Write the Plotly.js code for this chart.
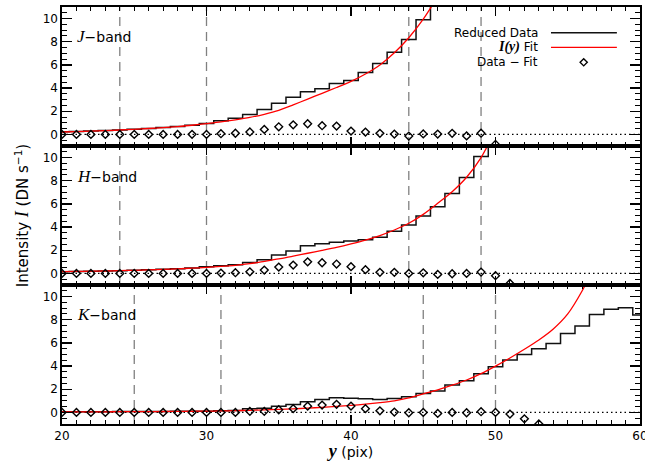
<!DOCTYPE html>
<html>
<head>
<meta charset="utf-8">
<script src="https://cdn.plot.ly/plotly-3.0.1.min.js"></script>
<style>
  html, body { margin: 0; padding: 0; background: #fff; }
  #chart { width: 645px; height: 461px; }
</style>
</head>
<body>
<div id="chart"></div>
<script>
// ---- J band ----
const jPix = [20,21,22,23,24,25,26,27,28,29,30,31,32,33,34,35,36,37,38,39,40,41,42,43,44,45,46];
const jData = [0.22,0.25,0.29,0.33,0.38,0.44,0.51,0.59,0.68,0.79,0.95,1.18,1.40,1.72,2.15,2.68,3.20,3.68,3.94,4.40,4.66,5.35,6.13,7.10,8.20,9.90,12.5];
const jFit = [0.21,0.24,0.28,0.33,0.38,0.44,0.51,0.59,0.68,0.79,0.93,1.08,1.26,1.47,1.74,2.08,2.55,3.05,3.55,4.05,4.58,5.22,6.00,7.05,8.35,9.95,11.9];
const jResPix = [20,21,22,23,24,25,26,27,28,29,30,31,32,33,34,35,36,37,38,39,40,41,42,43,44,45,46,47,48,49,50];
const jRes = [0,0,0,0,0,0,0,0,0,0.01,0,0.06,0.10,0.21,0.43,0.66,0.83,0.92,0.75,0.72,0.29,0.20,0.09,0.03,-0.14,0.04,0.03,0.09,-0.13,0.11,-0.86];
const jEdges = [24,30,44,49];

// ---- H band ----
const hPix = [20,21,22,23,24,25,26,27,28,29,30,31,32,33,34,35,36,37,38,39,40,41,42,43,44,45,46,47,48,49,50];
const hData = [0.15,0.17,0.19,0.21,0.24,0.27,0.31,0.35,0.40,0.46,0.57,0.66,0.74,0.95,1.18,1.58,1.93,2.39,2.56,2.70,2.79,2.90,3.13,3.65,4.17,4.96,5.75,6.90,8.29,10.1,12.5];
const hFit = [0.15,0.17,0.19,0.21,0.24,0.27,0.31,0.35,0.40,0.45,0.52,0.60,0.70,0.84,1.04,1.25,1.50,1.74,1.99,2.25,2.55,2.88,3.27,3.75,4.33,5.10,6.05,7.05,8.30,10.0,12.4];
const hResPix = [20,21,22,23,24,25,26,27,28,29,30,31,32,33,34,35,36,37,38,39,40,41,42,43,44,45,46,47,48,49,50,51];
const hRes = [0,0,0,0,0,0,0,0,0,0,0,0.03,0.06,0.14,0.29,0.55,0.72,1.00,0.92,0.81,0.58,0.32,0.09,0.09,0,0.05,-0.09,-0.03,0,0.12,-0.20,-0.87];
const hEdges = [24,30,44,49];

// ---- K band ----
const kPix = [20,21,22,23,24,25,26,27,28,29,30,31,32,33,34,35,36,37,38,39,40,41,42,43,44,45,46,47,48,49,50,51,52,53,54,55,56,57,58,59,60];
const kData = [0.05,0.05,0.06,0.06,0.07,0.07,0.08,0.08,0.09,0.10,0.11,0.14,0.17,0.31,0.37,0.54,0.69,0.92,1.12,1.26,1.23,1.17,1.12,1.20,1.35,1.64,1.84,2.36,2.73,3.34,3.94,4.52,5.00,5.50,5.96,6.82,7.45,8.46,8.90,9.03,8.40];
const kFitPix = [20,21,22,23,24,25,26,27,28,29,30,31,32,33,34,35,36,37,38,39,40,41,42,43,44,45,46,47,48,49,50,51,52,53,54,55,56,57];
const kFit = [0.04,0.045,0.05,0.055,0.06,0.065,0.07,0.08,0.09,0.10,0.11,0.13,0.15,0.18,0.22,0.26,0.31,0.37,0.44,0.52,0.61,0.71,0.84,1.00,1.25,1.60,1.95,2.35,2.80,3.35,4.00,4.70,5.45,6.25,7.20,8.50,10.5,13.0];
const kResPix = [20,21,22,23,24,25,26,27,28,29,30,31,32,33,34,35,36,37,38,39,40,41,42,43,44,45,46,47,48,49,50,51,52,53];
const kRes = [0,0,0,0,0,0,0,0,0,0,0,0,0,0.09,0.09,0.23,0.32,0.54,0.63,0.70,0.55,0.32,0.14,0.03,-0.03,0,-0.09,0,-0.03,0.06,0,-0.14,-0.55,-1.0];
const kEdges = [25,31,45,50];

const bandNames = ['J', 'H', 'K'];
const legendLabels = ['Reduced Data', '<span style="font-family:\'Liberation Serif\'; font-size:14px"><b><i>I(y)</i></b></span> Fit', 'Data \u2212 Fit'];

const SANS = 'DejaVu Sans, sans-serif';

// panels, top to bottom: J (y3), H (y2), K (y)
const panels = [
  {pix: jPix, data: jData, fitPix: jPix, fit: jFit, resPix: jResPix, res: jRes, edges: jEdges, xa: 'x3', ya: 'y3'},
  {pix: hPix, data: hData, fitPix: hPix, fit: hFit, resPix: hResPix, res: hRes, edges: hEdges, xa: 'x2', ya: 'y2'},
  {pix: kPix, data: kData, fitPix: kFitPix, fit: kFit, resPix: kResPix, res: kRes, edges: kEdges, xa: 'x', ya: 'y'}
];

const traces = [];
const shapes = [];
panels.forEach(p => {
  traces.push({x: p.pix, y: p.data, xaxis: p.xa, yaxis: p.ya, type: 'scatter', mode: 'lines',
    line: {shape: 'hvh', color: '#111', width: 1.5}, showlegend: false, hoverinfo: 'skip'});
  traces.push({x: p.fitPix, y: p.fit, xaxis: p.xa, yaxis: p.ya, type: 'scatter', mode: 'lines',
    line: {shape: 'spline', smoothing: 0.8, color: '#ff0000', width: 1.3}, showlegend: false, hoverinfo: 'skip'});
  traces.push({x: p.resPix, y: p.res, xaxis: p.xa, yaxis: p.ya, type: 'scatter', mode: 'markers',
    marker: {symbol: 'diamond-open', size: 6, color: '#000', line: {width: 1.4, color: '#000'}},
    showlegend: false, hoverinfo: 'skip'});
  p.edges.forEach(e => shapes.push({type: 'line', xref: p.xa, yref: p.ya + ' domain', x0: e, x1: e, y0: 0, y1: 1,
    line: {color: '#808080', width: 1.3, dash: '9px,6px'}, layer: 'below'}));
  shapes.push({type: 'line', xref: p.xa + ' domain', yref: p.ya, x0: 0, x1: 1, y0: 0, y1: 0,
    line: {color: '#000', width: 1.1, dash: '1.5px,3px'}, layer: 'below'});
});

// legend samples (top panel, upper right)
const legY = [0.9384, 0.9034, 0.8674];
shapes.push({type: 'line', xref: 'paper', yref: 'paper', x0: 0.846, x1: 0.960, y0: legY[0], y1: legY[0], line: {color: '#111', width: 1.5}});
shapes.push({type: 'line', xref: 'paper', yref: 'paper', x0: 0.846, x1: 0.960, y0: legY[1], y1: legY[1], line: {color: '#ff0000', width: 1.3}});
const dx = 0.0062, dy = 0.0086, cx = 0.9026, cy = legY[2];
shapes.push({type: 'path', xref: 'paper', yref: 'paper',
  path: `M ${cx - dx} ${cy} L ${cx} ${cy + dy} L ${cx + dx} ${cy} L ${cx} ${cy - dy} Z`,
  line: {color: '#000', width: 1.4}});

const annotations = [];
legendLabels.forEach((t, i) => annotations.push({xref: 'paper', yref: 'paper', x: 0.827, y: legY[i],
  xanchor: 'right', yanchor: 'middle', showarrow: false, text: t, font: {family: SANS, size: 12, color: '#000'}}));

const bandY = [0.9288, 0.593, 0.2614];
bandNames.forEach((b, i) => annotations.push({xref: 'paper', yref: 'paper', x: 0.022, y: bandY[i],
  xanchor: 'left', yanchor: 'middle', showarrow: false,
  text: `<span style="font-family:'Liberation Serif'; font-size:17px"><i>${b}</i></span>\u2212band`,
  font: {family: SANS, size: 14, color: '#000'}}));

function xAxis(anchor, labels) {
  return {anchor: anchor, domain: [0, 1], range: [20, 60], dtick: 10, tick0: 20,
    showline: true, linecolor: '#000', linewidth: 1.6, mirror: 'ticks',
    ticks: 'inside', ticklen: 9, tickwidth: 1.2, tickcolor: '#000',
    minor: {dtick: 1, ticklen: 4, tickwidth: 1, tickcolor: '#000', ticks: 'inside'},
    showgrid: false, zeroline: false, showticklabels: labels, ticklabeloverflow: 'allow',
    tickfont: {family: SANS, size: 12, color: '#000'}, fixedrange: true};
}
function yAxis(dom, anchor) {
  return {anchor: anchor, domain: dom, range: [-1, 11], dtick: 2, tick0: 0,
    showline: true, linecolor: '#000', linewidth: 1.6, mirror: 'ticks',
    ticks: 'inside', ticklen: 10, tickwidth: 1.2, tickcolor: '#000',
    minor: {dtick: 0.5, ticklen: 5, tickwidth: 1, tickcolor: '#000', ticks: 'inside'},
    showgrid: false, zeroline: false,
    tickfont: {family: SANS, size: 12, color: '#000'}, fixedrange: true};
}

const layout = {
  width: 645, height: 461,
  margin: {l: 62, r: 5, t: 7, b: 37},
  paper_bgcolor: '#fff', plot_bgcolor: '#fff',
  showlegend: false,
  xaxis: Object.assign(xAxis('y', true), {
    title: {text: '<span style="font-family:\'Liberation Serif\'; font-size:18px"><b><i>y</i></b></span> (pix)',
      font: {family: SANS, size: 14, color: '#000'}, standoff: 4}}),
  xaxis2: xAxis('y2', false),
  xaxis3: xAxis('y3', false),
  yaxis: yAxis([0, 1/3], 'x'),
  yaxis2: Object.assign(yAxis([1/3, 2/3], 'x2'), {
    title: {text: 'Intensity <span style="font-family:\'Liberation Serif\'; font-size:18px"><i>I</i></span> (DN s<sup>\u22121</sup>)',
      font: {family: SANS, size: 15, color: '#000'}, standoff: 10}}),
  yaxis3: yAxis([2/3, 1], 'x3'),
  shapes: shapes,
  annotations: annotations
};

Plotly.newPlot('chart', traces, layout, {displayModeBar: false, staticPlot: true});
</script>
</body>
</html>
